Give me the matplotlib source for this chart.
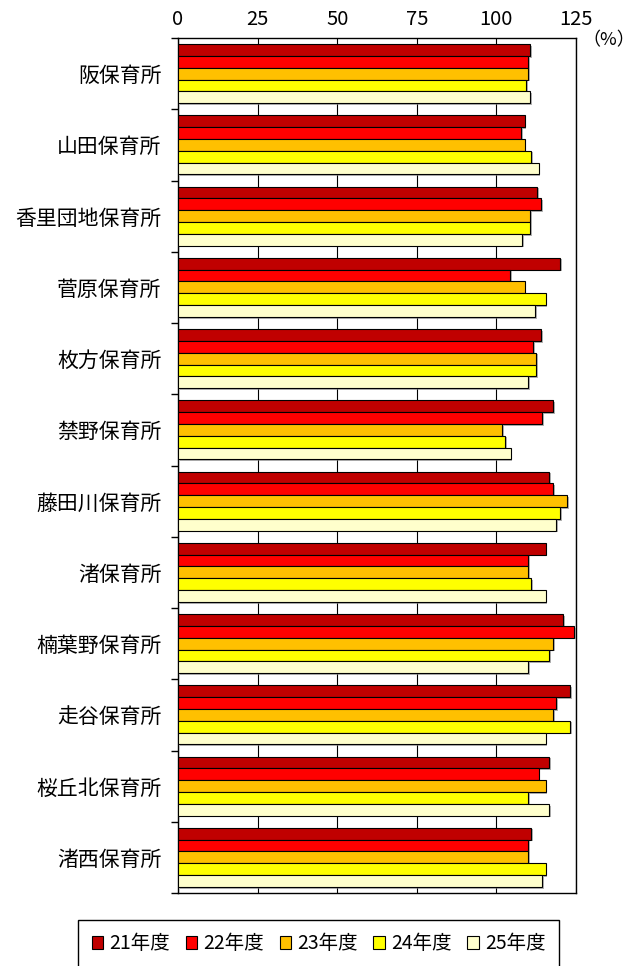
import matplotlib
matplotlib.use("Agg")
import matplotlib.pyplot as plt
import matplotlib.patheffects as pe
import numpy as np

plt.rcParams['font.family'] = ['Noto Sans CJK JP', 'DejaVu Sans']

# 保育所ごとの値 (%)
facilities = ["阪保育所", "山田保育所", "香里団地保育所", "菅原保育所", "枚方保育所",
              "禁野保育所", "藤田川保育所", "渚保育所", "楠葉野保育所", "走谷保育所",
              "桜丘北保育所", "渚西保育所"]
years = ["21年度", "22年度", "23年度", "24年度", "25年度"]
colors = ["#C00000", "#FF0000", "#FFC000", "#FFFF00", "#FFFFCC"]

fy21 = [110.6, 108.9, 112.7, 120.0, 114.1, 117.8, 116.6, 115.5, 121.0, 123.2, 116.6, 111.0]
fy22 = [109.9, 107.8, 114.0, 104.3, 111.6, 114.4, 117.8, 109.9, 124.4, 118.8, 113.3, 109.9]
fy23 = [109.9, 108.9, 110.6, 108.9, 112.4, 101.8, 122.2, 109.9, 117.8, 117.8, 115.5, 109.9]
fy24 = [109.3, 111.0, 110.6, 115.5, 112.4, 102.7, 120.0, 111.0, 116.6, 123.2, 109.9, 115.5]
fy25 = [110.6, 113.3, 108.0, 112.1, 109.9, 104.5, 118.8, 115.5, 109.9, 115.5, 116.6, 114.4]
series = [fy21, fy22, fy23, fy24, fy25]

fig = plt.figure(figsize=(6.37, 9.66), dpi=100)
ax = fig.add_axes([178 / 637, 1 - 893 / 966, 398 / 637, 855 / 966])

y = np.arange(len(facilities))
h = 0.166
shadow = [pe.SimplePatchShadow(offset=(1.2, -1.2), shadow_rgbFace="gray", alpha=0.6), pe.Normal()]
for j, (vals, name, c) in enumerate(zip(series, years, colors)):
    bars = ax.barh(y + (j - 2) * h, vals, height=h, color=c, edgecolor="black",
                   linewidth=0.8, label=name, zorder=3)
    for b in bars:
        b.set_path_effects(shadow)

ax.set_xlim(0, 125)
ax.set_ylim(len(facilities) - 0.5, -0.5)
ax.set_xticks([0, 25, 50, 75, 100, 125])
ax.xaxis.tick_top()
ax.tick_params(axis="x", length=0, labelsize=14.5, pad=6)
ax.grid(axis="x", color="black", linewidth=0.8, zorder=0)

ax.set_yticks(np.arange(len(facilities) + 1) - 0.5)
ax.set_yticklabels([])
ax.set_yticks(y, minor=True)
ax.set_yticklabels(facilities, minor=True, fontsize=15)
ax.tick_params(axis="y", which="major", direction="out", length=5, width=1)
ax.tick_params(axis="y", which="minor", length=0, pad=12)

for s in ax.spines.values():
    s.set_color("black")
    s.set_linewidth(1.0)

fig.text(582 / 637, 1 - 40 / 966, "（%）", fontsize=13, ha="left", va="center")

leg = fig.legend(loc="center", ncol=5, bbox_to_anchor=(78 / 637, 0.0, 481 / 637, 0.046),
                 mode="expand", borderaxespad=0, fancybox=False, edgecolor="black",
                 fontsize=14, handlelength=0.6, handleheight=0.6, handletextpad=0.3,
                 borderpad=0.7, columnspacing=1.0, framealpha=1)
leg.get_frame().set_linewidth(1.0)
for p in leg.get_patches():
    p.set_path_effects([])

fig.savefig("out.png", dpi=100)
